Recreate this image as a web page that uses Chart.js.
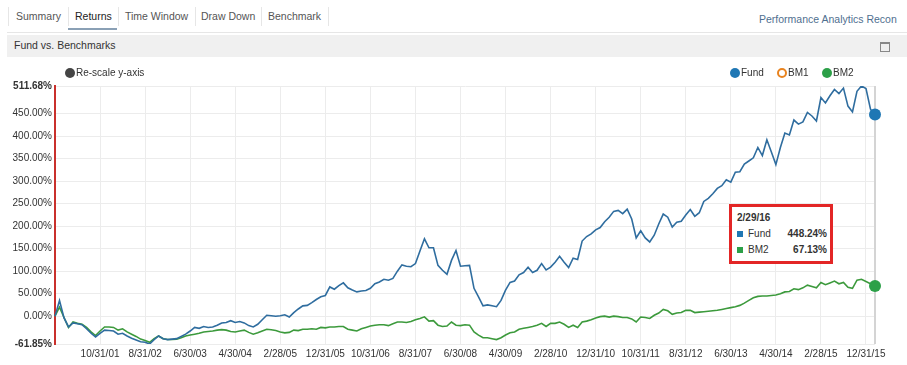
<!DOCTYPE html>
<html>
<head>
<meta charset="utf-8">
<script src="https://cdn.jsdelivr.net/npm/chart.js@4.4.1/dist/chart.umd.min.js"></script>
<style>
  body { margin: 0; background: #fff; font-family: "Liberation Sans", Arial, sans-serif; }
  #page { position: relative; width: 907px; height: 365px; overflow: hidden; }
  .tab { position: absolute; top: 9px; font-size: 10.5px; color: #555; line-height: 14px; }
  .tab.active { color: #222; }
  .sep { position: absolute; top: 7px; width: 1px; height: 19px; background: #e6e6e6; }
  #underline { position: absolute; left: 68px; top: 28px; width: 49px; height: 2px; background: #8aa0b5; }
  #brand { position: absolute; left: 759px; top: 13px; font-size: 10.5px; color: #4f6f8f; white-space: nowrap; }
  #rule { position: absolute; left: 7px; top: 32px; width: 900px; height: 1px; background: #e6e6e6; }
  #bar { position: absolute; left: 7px; top: 35px; width: 900px; height: 22px; background: #f0f0f0; }
  #bar span { position: absolute; left: 7px; top: 4px; font-size: 10.5px; color: #333; }
  #maxi { position: absolute; left: 880px; top: 42px; width: 8px; height: 7px; border: 1px solid #888; border-top-width: 2px; }
  #wrap { position: absolute; left: 0; top: 0; width: 907px; height: 365px; }
  .leg { position: absolute; top: 67px; font-size: 10px; color: #333; line-height: 12px; white-space: nowrap; }
  .dot { display: inline-block; width: 10px; height: 10px; border-radius: 50%; vertical-align: -2px; margin-right: 1px; box-sizing: border-box; }
  #tip { position: absolute; left: 729px; top: 204px; width: 98px; height: 54px; border: 3px solid #e32626; background: #fff; font-size: 10px; color: #333; }
  #tip .row { position: absolute; left: 5px; width: 90px; }
  #tip .sq { display: inline-block; width: 6px; height: 6px; margin-right: 5px; vertical-align: 0px; }
  #tip .val { position: absolute; right: 0; font-weight: bold; }
</style>
</head>
<body>
<div id="page">
  <div class="sep" style="left:8px"></div>
  <div class="tab" style="left:16px">Summary</div>
  <div class="sep" style="left:68px"></div>
  <div class="tab active" style="left:75px">Returns</div>
  <div class="sep" style="left:118px"></div>
  <div class="tab" style="left:125px">Time Window</div>
  <div class="sep" style="left:195px"></div>
  <div class="tab" style="left:201px">Draw Down</div>
  <div class="sep" style="left:261px"></div>
  <div class="tab" style="left:268px">Benchmark</div>
  <div class="sep" style="left:328px"></div>
  <div id="underline"></div>
  <div id="brand">Performance Analytics Recon</div>
  <div id="rule"></div>
  <div id="bar"><span>Fund vs. Benchmarks</span></div>
  <div id="maxi"></div>

  <div id="wrap"><canvas id="chart"></canvas></div>

  <div class="leg" style="left:65px"><span class="dot" style="background:#444"></span>Re-scale y-axis</div>
  <div class="leg" style="left:730px"><span class="dot" style="background:#1f77b4"></span>Fund</div>
  <div class="leg" style="left:777px"><span class="dot" style="border:2px solid #e8831f"></span>BM1</div>
  <div class="leg" style="left:822px"><span class="dot" style="background:#2ca048"></span>BM2</div>

  <div id="tip">
    <div class="row" style="top:5px;font-weight:bold">2/29/16</div>
    <div class="row" style="top:21px"><span class="sq" style="background:#1f77b4"></span>Fund<span class="val">448.24%</span></div>
    <div class="row" style="top:37px"><span class="sq" style="background:#2ca048"></span>BM2<span class="val">67.13%</span></div>
  </div>
</div>

<script>
// cumulative returns in %, month ends 12/31/00 .. 2/29/16
const fund = [
  0, 35, -4, -24, -15, -17, -19, -28, -38, -46,
  -38, -31, -32, -33, -40, -38, -44, -49, -53, -57,
  -58, -61.85, -52, -44, -50, -52, -51, -50, -45, -40,
  -33, -25, -27, -23, -25, -24, -20, -15, -14, -10,
  -14, -12, -15, -21, -24, -18, -8, 2, 1, 0,
  1, 3, -2, 8, 16, 23, 24, 30, 37, 43,
  46, 65, 60, 68, 74, 63, 58, 54, 56, 57,
  62, 72, 76, 82, 80, 84, 100, 114, 111, 110,
  117, 145, 172, 152, 152, 113, 102, 93, 124, 146,
  111, 112, 113, 62, 43, 23, 25, 23, 21, 35,
  58, 75, 78, 92, 97, 109, 97, 102, 117, 103,
  109, 120, 133, 120, 108, 129, 126, 167, 177, 183,
  192, 197, 210, 220, 233, 235, 228, 238, 216, 174,
  190, 174, 165, 180, 205, 227, 220, 198, 209, 211,
  225, 237, 222, 230, 255, 262, 272, 284, 290, 303,
  298, 320, 321, 338, 345, 352, 375, 357, 392, 365,
  337, 375, 407, 403, 436, 427, 432, 453, 445, 434,
  486, 474, 490, 504, 495, 507, 467, 454, 500, 511.68,
  506, 460, 448.24
];
const bm2 = [
  0, 20, -3, -25, -13, -16, -18, -25, -35, -43,
  -33, -24, -24, -25, -31, -28, -35, -40, -45, -51,
  -54, -58, -50, -44, -50, -52, -52, -51, -48, -44,
  -42, -40, -38, -35, -34, -33, -31, -30, -31, -34,
  -35, -33, -31, -36, -40, -37, -33, -29, -30, -32,
  -35, -37, -36, -31, -32, -29, -29, -28, -29, -25,
  -26, -24, -24, -23, -23, -29, -31, -33, -28, -25,
  -22, -20, -19, -19, -21, -17, -13, -13, -14, -12,
  -8, -5, -1.5, -11, -10, -20, -23, -22, -13, -20,
  -21, -19, -20, -35, -42, -48, -48, -50, -52, -48,
  -42, -37, -35, -29, -27, -25, -23, -20, -16, -23,
  -16, -16, -13, -18, -25, -20, -25, -13, -11, -8,
  -4, -1, 0, -2, 0, -1, -3, -3, -6, -13,
  -2, -3, -5, 2, 7, 15, 12, 4, 7, 8,
  13, 13, 8, 9, 10, 11, 12, 13, 15, 17,
  19, 21, 24, 29, 35, 41, 44, 45, 45, 46,
  47, 50, 54, 55, 61, 59, 63, 69, 66, 63,
  75, 70, 74, 78, 72, 75, 64, 62, 80, 82,
  77, 72, 67.13
];
const xTickLabels = ['10/31/01', '8/31/02', '6/30/03', '4/30/04', '2/28/05', '12/31/05',
  '10/31/06', '8/31/07', '6/30/08', '4/30/09', '2/28/10', '12/31/10', '10/31/11',
  '8/31/12', '6/30/13', '4/30/14', '2/28/15', '12/31/15'];
const yMin = -61.85;
const yMax = 511.68;
const yTicks = [yMin, 0, 50, 100, 150, 200, 250, 300, 350, 400, 450, yMax];

// month-end dates as category labels
const dates = [];
for (let i = 0; i < fund.length; i++) {
    const d = new Date(2001, i + 0, 0); // last day of month (12/31/00 first)
    dates.push((d.getMonth() + 1) + '/' + d.getDate() + '/' + String(d.getFullYear()).slice(2));
}
const last = fund.length - 1;

const hoverLine = {
    id: 'hoverLine',
    beforeDatasetsDraw(chart) {
        const x = chart.scales.x.getPixelForValue(last);
        const ctx = chart.ctx;
        ctx.save();
        ctx.strokeStyle = '#d4d4d4';
        ctx.lineWidth = 2;
        ctx.beginPath();
        ctx.moveTo(x, chart.chartArea.top);
        ctx.lineTo(x, chart.chartArea.bottom);
        ctx.stroke();
        ctx.restore();
    }
};

const endPoint = ctx => ctx.dataIndex === last ? 6 : 0;

new Chart(document.getElementById('chart').getContext('2d'), {
    type: 'line',
    data: {
        labels: dates,
        datasets: [{
            label: 'Fund',
            data: fund,
            borderColor: '#2f6d9f',
            backgroundColor: '#1f77b4',
            borderWidth: 1.6,
            pointRadius: endPoint,
            pointBorderWidth: 0,
            tension: 0
        }, {
            label: 'BM2',
            data: bm2,
            borderColor: '#3c9a3c',
            backgroundColor: '#2ca048',
            borderWidth: 1.6,
            pointRadius: endPoint,
            pointBorderWidth: 0,
            tension: 0
        }]
    },
    options: {
        responsive: true,
        maintainAspectRatio: false,
        animation: false,
        events: [],
        layout: { padding: { top: 86, right: 32, left: 0, bottom: 0 } },
        plugins: { legend: { display: false }, tooltip: { enabled: false } },
        scales: {
            x: {
                afterFit: s => { s.height = 21; },
                grid: { color: '#ececec', drawTicks: false },
                border: { display: false },
                ticks: {
                    autoSkip: false,
                    maxRotation: 0,
                    padding: 4,
                    color: '#333',
                    font: { family: 'Liberation Sans', size: 10 },
                    callback: function(val) {
                        const l = this.getLabelForValue(val);
                        return xTickLabels.includes(l) ? l : null;
                    }
                }
            },
            y: {
                min: yMin,
                max: yMax,
                afterFit: s => { s.width = 55; },
                afterBuildTicks: s => { s.ticks = yTicks.map(v => ({ value: v })); },
                grid: { color: '#ececec', drawTicks: false },
                border: { color: '#c9302c', width: 2 },
                ticks: {
                    padding: 3,
                    color: '#333',
                    font: ctx => ({
                        family: 'Liberation Sans',
                        size: 10,
                        weight: (ctx.tick && (ctx.tick.value === yMin || ctx.tick.value === yMax)) ? 'bold' : 'normal'
                    }),
                    callback: v => v.toFixed(2) + '%'
                }
            }
        }
    },
    plugins: [hoverLine]
});
</script>
</body>
</html>
